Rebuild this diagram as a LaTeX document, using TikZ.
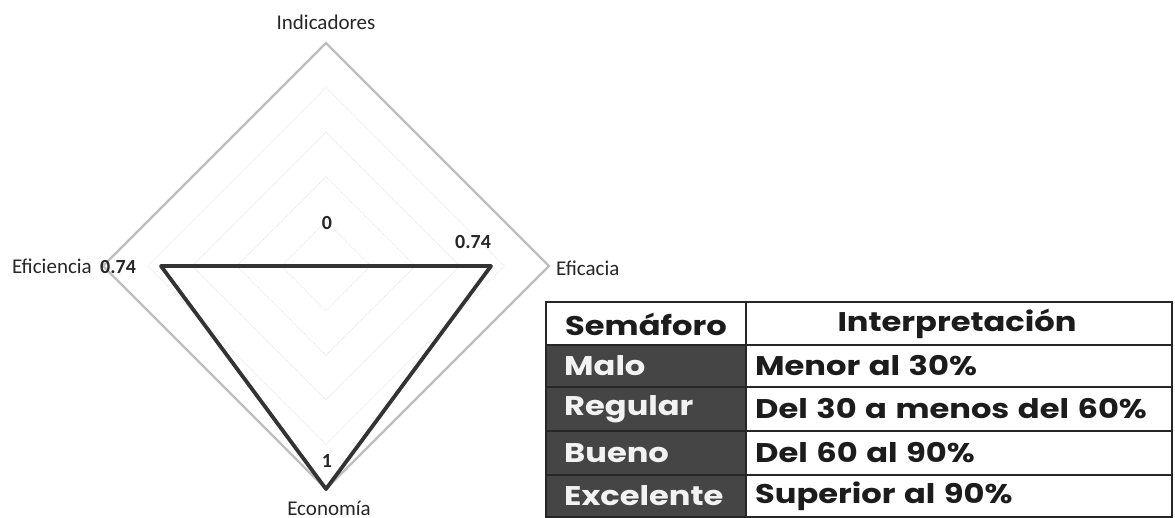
\documentclass[tikz,border=0pt]{standalone}
\usepackage{fontspec}
\usetikzlibrary{calc}
\setmainfont{Carlito}
\newfontfamily\tabfont{Poppins}[FakeStretch=1.19, WordSpace=1.25]
\definecolor{gridgray}{HTML}{BEBEBE}
\definecolor{faint}{HTML}{E4E4E4}
\definecolor{dataline}{HTML}{333333}
\definecolor{cellgray}{HTML}{454545}
\definecolor{celltext}{HTML}{F2F2F2}
\definecolor{tabtext}{HTML}{1C1C1C}
\begin{document}
\begin{tikzpicture}[x=1pt,y=-1pt,
  lbl/.style={font=\fontsize{21}{24}\selectfont, text=black!85, inner sep=0pt},
  val/.style={font=\fontsize{20}{24}\selectfont\bfseries, text=black!85, inner sep=0pt},
  outerdia/.style={draw=gridgray, line width=2.2pt, line join=miter},
  griddia/.style={draw=faint, line width=0.8pt, densely dotted},
  dataline/.style={draw=dataline, line width=3.8pt, line join=round},
  tabrule/.style={draw=black!85, line width=1.4pt},
  darkcell/.style={fill=cellgray},
  headtxt/.style={font=\tabfont\bfseries\fontsize{27}{30}\selectfont, text=tabtext, inner sep=0pt},
  celltxt/.style={font=\tabfont\bfseries\fontsize{27}{30}\selectfont, text=celltext, inner sep=0pt, anchor=west},
  rowtxt/.style={font=\tabfont\bfseries\fontsize{27}{30}\selectfont, text=tabtext, inner sep=0pt, anchor=west}
]
\useasboundingbox (0,0) rectangle (1175,518);

% ---------- radar chart ----------
\coordinate (C) at (326,266);
\coordinate (T) at (326,43);
\coordinate (R) at (549,266);
\coordinate (B) at (326,489);
\coordinate (L) at (103,266);
\foreach \f in {0.2,0.4,0.6,0.8}{
  \draw[griddia] ($(C)!\f!(T)$) -- ($(C)!\f!(R)$) -- ($(C)!\f!(B)$) -- ($(C)!\f!(L)$) -- cycle;
}
\draw[outerdia] (T) -- (R) -- (B) -- (L) -- cycle;

\coordinate (pR) at ($(C)!0.74!(R)$);
\coordinate (pL) at ($(C)!0.74!(L)$);
\coordinate (pB) at (B);
\draw[dataline] (pL) -- (C) -- (pR) -- (pB) -- cycle;

\node[lbl] (ind) at (326,22) {Indicadores};
\node[lbl, anchor=east] (efi) at (92,266) {Eficiencia};
\node[val, anchor=west] (efiv) at (100,267) {0.74};
\node[lbl, anchor=west] (efc) at (556,268) {Eficacia};
\node[lbl] (eco) at (329,508) {Economía};
\node[val] (v0) at (327,223) {0};
\node[val] (v1) at (473,242) {0.74};
\node[val] (vB) at (327,461) {1};

% ---------- table ----------
\def\xa{546}\def\xb{746}\def\xc{1172}
\fill[darkcell] (\xa,345) rectangle (\xb,517);
\draw[tabrule] (\xa,302) rectangle (\xc,517);
\foreach \y in {345,387,431,475}{
  \draw[tabrule] (\xa,\y) -- (\xc,\y);
}
\draw[tabrule] (\xb,302) -- (\xb,517);

\node[headtxt] (h1) at (646,324) {Semáforo};
\node[headtxt] (h2) at (957,324) {Interpretación};
\node[celltxt] (r1a) at (564,366) {Malo};
\node[celltxt] (r2a) at (564,409) {Regular};
\node[celltxt] (r3a) at (564,453) {Bueno};
\node[celltxt] (r4a) at (564,496) {Excelente};
\node[rowtxt] (r1b) at (755,366) {Menor al 30\%};
\node[rowtxt] (r2b) at (755,409) {Del 30 a menos del 60\%};
\node[rowtxt] (r3b) at (755,453) {Del 60 al 90\%};
\node[rowtxt] (r4b) at (755,496) {Superior al 90\%};
\end{tikzpicture}
\end{document}
